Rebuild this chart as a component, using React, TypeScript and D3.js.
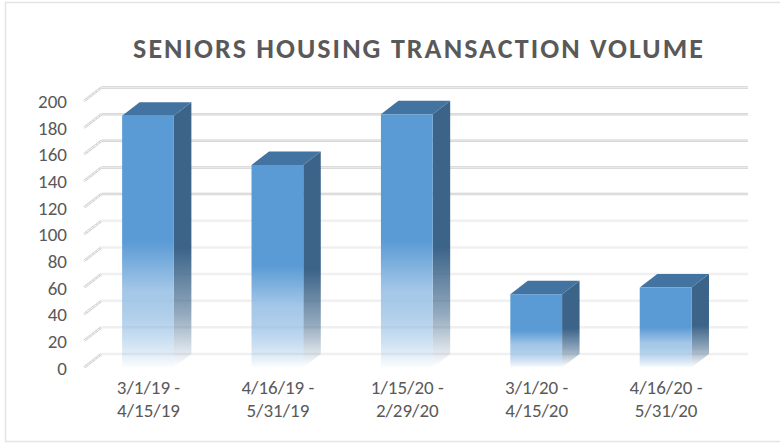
import React from "react";
import * as d3 from "d3";

const categories = [["3/1/19 -", "4/15/19"], ["4/16/19 -", "5/31/19"], ["1/15/20 -", "2/29/20"], ["3/1/20 -", "4/15/20"], ["4/16/20 -", "5/31/20"]];
const values = [189, 152, 190, 55, 60];
const ticks = [0, 20, 40, 60, 80, 100, 120, 140, 160, 180, 200];

const W = 780, H = 443;
const dx = 17.5, dy = 13.5;
const y = d3.scaleLinear().domain([0, 200]).range([367.5, 101]);
const x = d3.scaleBand<number>().domain(d3.range(5)).range([83.3, 730.3]).paddingInner(0.6).paddingOuter(0.3);
const font = "Carlito, 'Open Sans', 'Noto Sans', sans-serif";

export default function App() {
  return (
    <svg width={W} height={H} style={{ position: "absolute", left: 0, top: 0, background: "#fff" }}>
      <defs>
        <linearGradient id="front" x1="0" y1="0" x2="0" y2="1">
          <stop offset="0" stopColor="#5b9bd5" />
          <stop offset="0.5" stopColor="#5b9bd5" />
          <stop offset="0.7" stopColor="#a5c8e8" />
          <stop offset="1" stopColor="#5b9bd5" stopOpacity="0.02" />
        </linearGradient>
        <linearGradient id="side" x1="0" y1="0" x2="0" y2="1">
          <stop offset="0" stopColor="#3c6489" />
          <stop offset="0.55" stopColor="#3c6489" />
          <stop offset="0.8" stopColor="#3c6489" stopOpacity="0.55" />
          <stop offset="1" stopColor="#3c6489" stopOpacity="0" />
        </linearGradient>
      </defs>
      <rect x={5.5} y={2.5} width={W} height={H - 4} fill="#fff" stroke="#e4e4e4" strokeWidth={1.5} />
      <text x={419} y={58} textAnchor="middle" fontFamily={font} fontSize={28} fontWeight={700} fill="#595959" letterSpacing={2.05}>
        SENIORS HOUSING TRANSACTION VOLUME
      </text>
      {ticks.map((t) => {
        const light = t <= 100;
        const c = light ? "#f0f0f0" : "#cfcfcf";
        return (
          <g key={t}>
            <line x1={84} x2={84 + dx} y1={y(t)} y2={y(t) - dy} stroke="#d2d2d2" strokeWidth={2.5} />
            <line x1={84} x2={84 + dx} y1={y(t)} y2={y(t) - dy} stroke="#fff" strokeWidth={1} strokeDasharray="3 1" />
            <line x1={84 + dx} x2={748} y1={y(t) - dy} y2={y(t) - dy} stroke={c} strokeWidth={2.5} />
            {!light && <line x1={84 + dx} x2={748} y1={y(t) - dy} y2={y(t) - dy} stroke="#f2f2f2" strokeWidth={0.8} />}
            <text x={67} y={y(t) + 7} textAnchor="end" fontFamily={font} fontSize={19} fill="#595959">{t}</text>
          </g>
        );
      })}
      {values.map((v, i) => {
        const x0 = x(i)!, w = x.bandwidth(), top = y(v), bot = y(0);
        return (
          <g key={i}>
            <path d={`M${x0 + w},${top}L${x0 + w + dx},${top - dy}L${x0 + w + dx},${bot - dy}L${x0 + w},${bot}Z`} fill="url(#side)" />
            <path d={`M${x0},${top}L${x0 + dx},${top - dy}L${x0 + w + dx},${top - dy}L${x0 + w},${top}Z`} fill="#4273a1" />
            <rect x={x0} y={top} width={w} height={bot - top} fill="url(#front)" />
            {categories[i].map((l, j) => (
              <text key={j} x={x0 + w / 2 + 0.5} y={394 + j * 23} textAnchor="middle" fontFamily={font} fontSize={19} fill="#595959">{l}</text>
            ))}
          </g>
        );
      })}
    </svg>
  );
}
